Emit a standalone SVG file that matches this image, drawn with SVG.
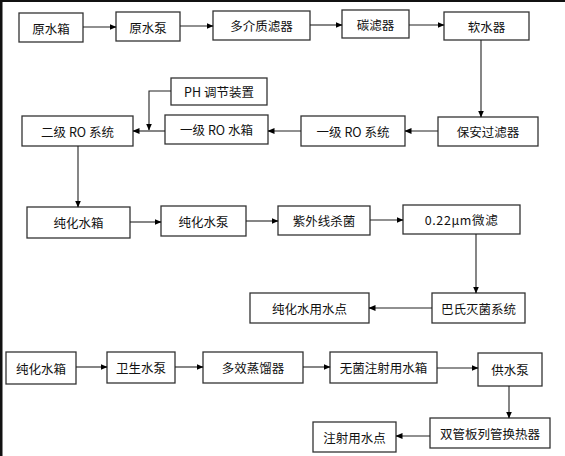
<svg xmlns="http://www.w3.org/2000/svg" width="565" height="456" viewBox="0 0 565 456">
<defs>
<marker id="ah" markerWidth="7" markerHeight="6" refX="6.5" refY="3" orient="auto" markerUnits="userSpaceOnUse">
<path d="M0,0 L7,3 L0,6 Z" fill="#000"/>
</marker>
<style>
.box{fill:#fff;stroke:#333;stroke-width:1.3}
.t{font-family:"Noto Sans CJK SC","Liberation Sans",sans-serif;font-size:12.5px;fill:#111;text-anchor:middle;dominant-baseline:central}
.c{fill:none;stroke:#222;stroke-width:1.1;marker-end:url(#ah)}
.c2{fill:none;stroke:#222;stroke-width:1.1}
</style>
</defs>
<rect x="0" y="0" width="565" height="456" fill="#fff"/>
<rect x="0" y="0" width="565" height="2" fill="#111"/>
<rect x="0" y="0" width="2.5" height="456" fill="#111"/>

<g id="n1"><rect class="box" x="19" y="13" width="64" height="29"/><text class="t" x="51" y="28">原水箱</text></g>
<g id="n2"><rect class="box" x="116" y="12" width="64" height="29"/><text class="t" x="148" y="27">原水泵</text></g>
<g id="n3"><rect class="box" x="213" y="11" width="97" height="29"/><text class="t" x="261.5" y="25.5">多介质滤器</text></g>
<g id="n4"><rect class="box" x="342" y="10" width="67" height="28"/><text class="t" x="375.5" y="24">碳滤器</text></g>
<g id="n5"><rect class="box" x="444" y="12" width="85" height="28"/><text class="t" x="486.5" y="26">软水器</text></g>
<g id="n6"><rect class="box" x="171" y="78" width="96" height="27"/><text class="t" x="219" y="91.5">PH 调节装置</text></g>
<g id="n7"><rect class="box" x="22" y="116" width="111" height="30"/><text class="t" x="77.5" y="131">二级 RO 系统</text></g>
<g id="n8"><rect class="box" x="165" y="115" width="103" height="29"/><text class="t" x="216.5" y="129.5">一级 RO 水箱</text></g>
<g id="n9"><rect class="box" x="301" y="116" width="104" height="30"/><text class="t" x="353" y="131">一级 RO 系统</text></g>
<g id="n10"><rect class="box" x="438" y="117" width="100" height="29"/><text class="t" x="488" y="131.5">保安过滤器</text></g>
<g id="n11"><rect class="box" x="27" y="207" width="103" height="31"/><text class="t" x="78.5" y="222.5">纯化水箱</text></g>
<g id="n12"><rect class="box" x="161" y="206" width="85" height="30"/><text class="t" x="203.5" y="221">纯化水泵</text></g>
<g id="n13"><rect class="box" x="278" y="206" width="92" height="29"/><text class="t" x="324" y="220.5">紫外线杀菌</text></g>
<g id="n14"><rect class="box" x="403" y="205" width="117" height="29"/><text class="t" x="461.5" y="219.5" style="letter-spacing:0.6px">0.22μm微滤</text></g>
<g id="n15"><rect class="box" x="250" y="293" width="119" height="30"/><text class="t" x="309.5" y="308">纯化水用水点</text></g>
<g id="n16"><rect class="box" x="432" y="293" width="93" height="30"/><text class="t" x="478.5" y="308">巴氏灭菌系统</text></g>
<g id="n17"><rect class="box" x="6" y="352" width="70" height="32"/><text class="t" x="41" y="368">纯化水箱</text></g>
<g id="n18"><rect class="box" x="107" y="352" width="68" height="31"/><text class="t" x="141" y="367.5">卫生水泵</text></g>
<g id="n19"><rect class="box" x="203" y="352" width="100" height="31"/><text class="t" x="253" y="367.5">多效蒸馏器</text></g>
<g id="n20"><rect class="box" x="330" y="352" width="107" height="31"/><text class="t" x="383.5" y="367.5">无菌注射用水箱</text></g>
<g id="n21"><rect class="box" x="478" y="353" width="64" height="33"/><text class="t" x="510" y="369.5">供水泵</text></g>
<g id="n22"><rect class="box" x="430" y="418" width="120" height="30"/><text class="t" x="490" y="433">双管板列管换热器</text></g>
<g id="n23"><rect class="box" x="313" y="422" width="83" height="30"/><text class="t" x="354.5" y="437">注射用水点</text></g>

<g id="connectors">
<line class="c" x1="83" y1="27" x2="116" y2="27"/>
<line class="c" x1="180" y1="26" x2="213" y2="26"/>
<line class="c" x1="310" y1="25" x2="342" y2="25"/>
<line class="c" x1="409" y1="25" x2="444" y2="25"/>
<line class="c" x1="481" y1="40" x2="481" y2="117"/>
<line class="c" x1="438" y1="131" x2="405" y2="131"/>
<line class="c" x1="301" y1="131" x2="268" y2="131"/>
<line class="c" x1="165" y1="131" x2="133" y2="131"/>
<polyline class="c" points="171,91 149,91 149,130"/>
<line class="c" x1="78" y1="146" x2="78" y2="207"/>
<line class="c" x1="130" y1="222" x2="161" y2="222"/>
<line class="c" x1="246" y1="221" x2="278" y2="221"/>
<line class="c" x1="370" y1="220" x2="403" y2="220"/>
<line class="c" x1="476" y1="234" x2="476" y2="293"/>
<line class="c" x1="432" y1="308" x2="369" y2="308"/>
<line class="c" x1="76" y1="367" x2="107" y2="367"/>
<line class="c" x1="175" y1="367" x2="203" y2="367"/>
<line class="c" x1="303" y1="367" x2="330" y2="367"/>
<line class="c" x1="437" y1="368" x2="478" y2="368"/>
<line class="c" x1="509" y1="386" x2="509" y2="418"/>
<line class="c" x1="430" y1="436" x2="396" y2="436"/>
</g>
</svg>
